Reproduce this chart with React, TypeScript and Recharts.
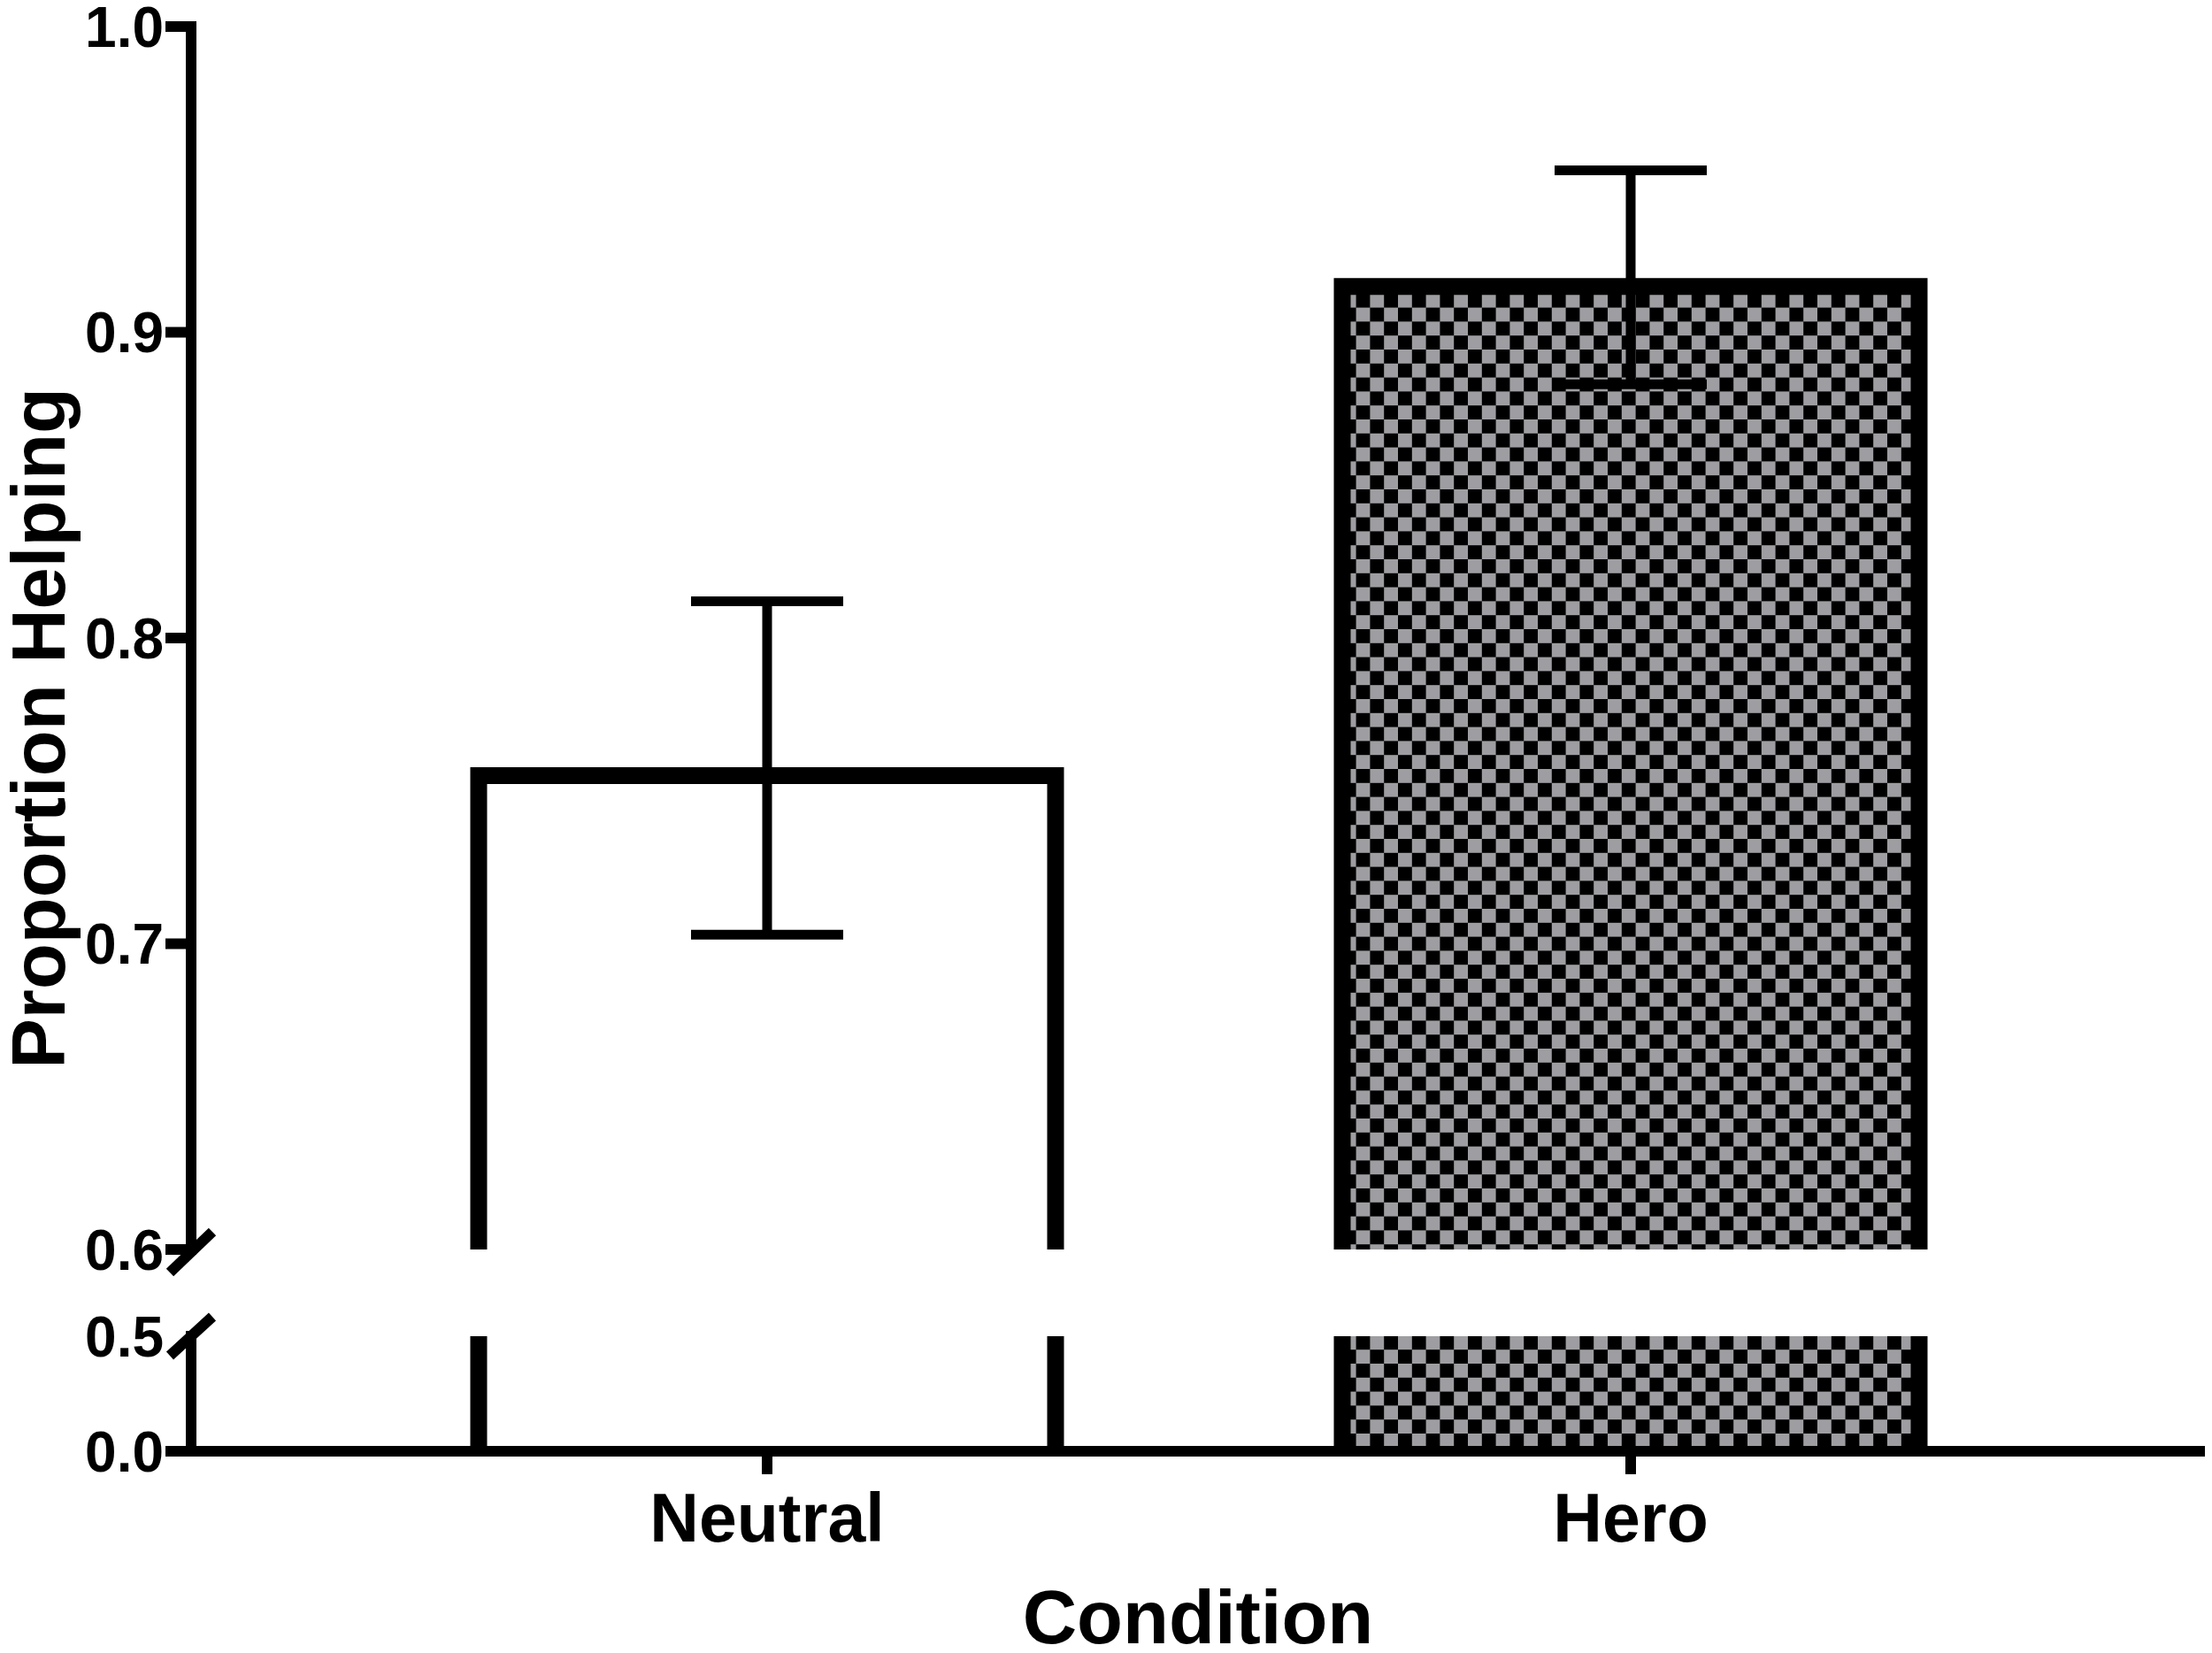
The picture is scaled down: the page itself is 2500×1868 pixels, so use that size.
import React from 'react';
import { BarChart, Bar, XAxis, YAxis, ErrorBar, Cell } from 'recharts';

// ---- data ----
const categories = ['Neutral', 'Hero'];
const meanValues = [0.755, 0.915];
const errorLow = [0.052, 0.032];
const errorHigh = [0.057, 0.038];
const upperTicks = [0.6, 0.7, 0.8, 0.9, 1.0];
const lowerTicks = [0.0, 0.5];
const xAxisTitle = 'Condition';
const yAxisTitle = 'Proportion Helping';

const data = categories.map((name, i) => ({
  name,
  value: meanValues[i],
  err: [errorLow[i], errorHigh[i]],
}));

// ---- styling ----
const FONT = '"Liberation Sans", Arial, Helvetica, sans-serif';
const W = 2500;
const Y_AXIS_W = 216;
const TICK_SIZE = 29;
const TICK_MARGIN = 2;
const LINE_W = 12;
const BAR_STROKE = 19;
const BAR_SIZE = 652;
const X_PAD = { left: 163, right: 161 };
const GRAY = '#9e9ea2';
const CELL = 15.8;

const fillsFor = (id: string) => ['#ffffff', `url(#${id})`];

const Checker = ({ id }: { id: string }) => (
  <defs>
    <pattern id={id} width={CELL * 2} height={CELL * 2} patternUnits="userSpaceOnUse">
      <rect x={0} y={0} width={CELL * 2} height={CELL * 2} fill={GRAY} />
      <rect x={0} y={0} width={CELL} height={CELL} fill="#000" />
      <rect x={CELL} y={CELL} width={CELL} height={CELL} fill="#000" />
    </pattern>
  </defs>
);

const OpenBar = (props: any) => {
  const { x, y, width, height, fill } = props;
  if (x == null || y == null || width == null || height == null) return null;
  const d = `M${x},${y + height} L${x},${y} L${x + width},${y} L${x + width},${y + height}`;
  return (
    <g>
      <rect x={x} y={y} width={width} height={height} fill={fill} />
      <path d={d} fill="none" stroke="#000" strokeWidth={BAR_STROKE} strokeLinejoin="miter" />
    </g>
  );
};

const makeYTick = (slashAt: number | null, lineAt: number | null, slashUp: number[]) => (props: any) => {
  const { x, y, payload } = props;
  const v = Number(payload.value);
  const axisX = x + TICK_MARGIN + TICK_SIZE;
  return (
    <g>
      <text
        x={x}
        y={y}
        dy="0.355em"
        textAnchor="end"
        fontSize={64}
        fontWeight="bold"
        fontFamily={FONT}
        fill="#000"
      >
        {v.toFixed(1)}
      </text>
      {lineAt !== null && Math.abs(v - lineAt) < 1e-9 && (
        <line x1={axisX - TICK_SIZE} y1={y} x2={axisX} y2={y} stroke="#000" strokeWidth={LINE_W} />
      )}
      {slashAt !== null && Math.abs(v - slashAt) < 1e-9 && (
        <line
          x1={axisX - 24}
          y1={y + slashUp[0]}
          x2={axisX + 24}
          y2={y + slashUp[1]}
          stroke="#000"
          strokeWidth={LINE_W}
        />
      )}
    </g>
  );
};

const UpperTick = makeYTick(0.6, null, [26, -20]);
const LowerTick = makeYTick(0.5, 0.0, [22, -22]);

export default function App() {
  const upperFills = fillsFor('heroCheckerTop');
  const lowerFills = fillsFor('heroCheckerBottom');
  return (
    <div
      style={{
        position: 'absolute',
        left: 0,
        top: 0,
        width: W,
        height: 1868,
        background: '#fff',
        fontFamily: FONT,
      }}
    >
      <div style={{ position: 'absolute', left: 0, top: 0 }}>
        <BarChart width={W} height={1462} data={data} margin={{ top: 30, right: 8, bottom: 50, left: 0 }}>
          <Checker id="heroCheckerTop" />
          <XAxis dataKey="name" hide height={0} padding={X_PAD} />
          <YAxis
            type="number"
            width={Y_AXIS_W}
            domain={[0.6, 1.0]}
            ticks={upperTicks}
            interval={0}
            allowDataOverflow
            tickSize={TICK_SIZE}
            tickMargin={TICK_MARGIN}
            axisLine={{ stroke: '#000', strokeWidth: LINE_W, strokeLinecap: 'square' }}
            tickLine={{ stroke: '#000', strokeWidth: LINE_W }}
            tick={<UpperTick />}
            label={{
              value: yAxisTitle,
              angle: -90,
              position: 'insideLeft',
              offset: 43,
              dy: 102,
              fontSize: 85,
              fontWeight: 'bold',
              fill: '#000',
              fontFamily: FONT,
              style: { textAnchor: 'middle' },
            }}
          />
          <Bar dataKey="value" barSize={BAR_SIZE} isAnimationActive={false} shape={<OpenBar />}>
            {data.map((d, i) => (
              <Cell key={d.name} fill={upperFills[i]} />
            ))}
            <ErrorBar
              dataKey="err"
              width={86}
              stroke="#000"
              strokeWidth={11}
              direction="y"
              isAnimationActive={false}
            />
          </Bar>
        </BarChart>
      </div>
      <div style={{ position: 'absolute', left: 0, top: 1462 }}>
        <BarChart width={W} height={406} data={data} margin={{ top: 48, right: 8, bottom: 0, left: 0 }}>
          <Checker id="heroCheckerBottom" />
          <XAxis
            dataKey="name"
            height={228}
            padding={X_PAD}
            interval={0}
            tickSize={26}
            tickMargin={21}
            axisLine={{ stroke: '#000', strokeWidth: LINE_W }}
            tickLine={{ stroke: '#000', strokeWidth: LINE_W }}
            tick={{ fontSize: 77, fontWeight: 'bold', fill: '#000', fontFamily: FONT }}
            label={{
              value: xAxisTitle,
              position: 'insideBottom',
              offset: 11,
              fontSize: 85,
              fontWeight: 'bold',
              fill: '#000',
              fontFamily: FONT,
            }}
          />
          <YAxis
            type="number"
            width={Y_AXIS_W}
            domain={[0, 0.5]}
            ticks={lowerTicks}
            interval={0}
            allowDataOverflow
            tickSize={TICK_SIZE}
            tickMargin={TICK_MARGIN}
            axisLine={{ stroke: '#000', strokeWidth: LINE_W, strokeLinecap: 'square' }}
            tickLine={false}
            tick={<LowerTick />}
          />
          <Bar dataKey="value" barSize={BAR_SIZE} isAnimationActive={false} shape={<OpenBar />}>
            {data.map((d, i) => (
              <Cell key={d.name} fill={lowerFills[i]} />
            ))}
          </Bar>
        </BarChart>
      </div>
    </div>
  );
}
